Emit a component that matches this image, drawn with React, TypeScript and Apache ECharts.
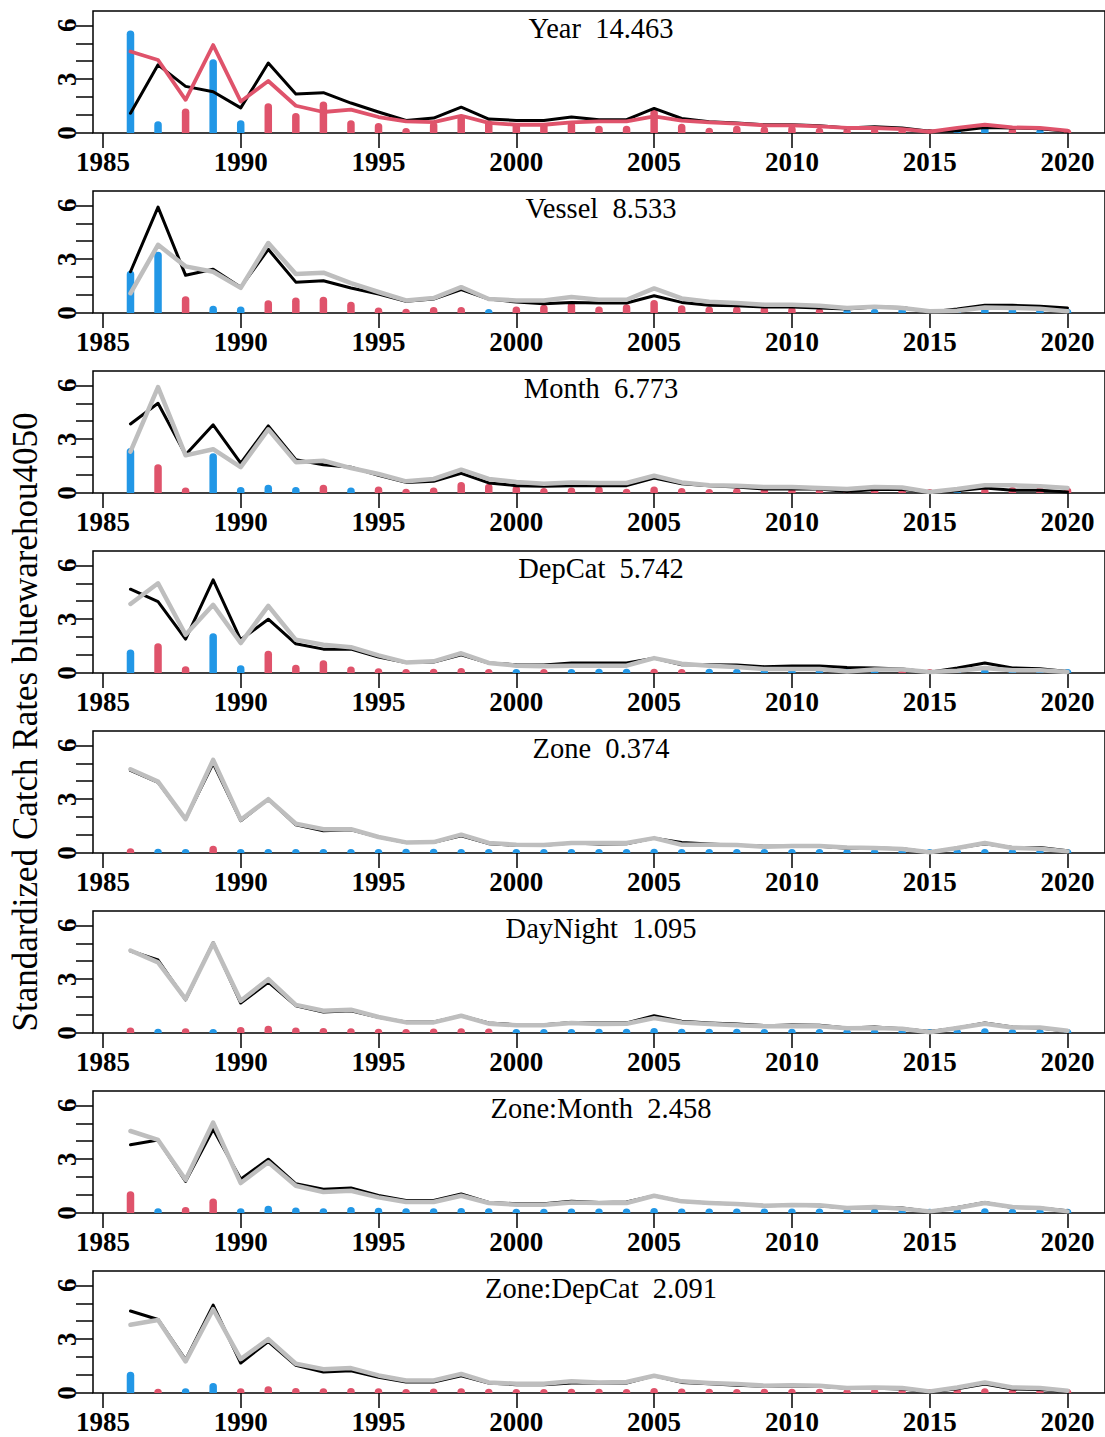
import React, { useEffect, useRef } from "react";
import * as echarts from "echarts";

const years = [1986, 1987, 1988, 1989, 1990, 1991, 1992, 1993, 1994, 1995, 1996, 1997, 1998, 1999, 2000, 2001, 2002, 2003, 2004, 2005, 2006, 2007, 2008, 2009, 2010, 2011, 2012, 2013, 2014, 2015, 2016, 2017, 2018, 2019, 2020];
const xTicks = [1985, 1990, 1995, 2000, 2005, 2010, 2015, 2020];
const yTicks = [0, 1, 2, 3, 4, 5, 6];
const yLabels = [0, 3, 6];

const termNames = ["Year", "Vessel", "Month", "DepCat", "Zone", "DayNight", "Zone:Month", "Zone:DepCat"];
const termStats = ["14.463", "8.533", "6.773", "5.742", "0.374", "1.095", "2.458", "2.091"];

// nominal (geometric mean) index shown in red in the first panel
const nominal = [4.54, 4.07, 1.85, 4.9, 1.76, 2.9, 1.52, 1.17, 1.3, 0.89, 0.65, 0.61, 0.96, 0.56, 0.46, 0.46, 0.59, 0.65, 0.65, 0.93, 0.69, 0.59, 0.52, 0.43, 0.43, 0.37, 0.28, 0.28, 0.22, 0.07, 0.28, 0.46, 0.31, 0.28, 0.13];

// standardized index after each step (black lines)
const yearIdx = [1.1, 3.8, 2.6, 2.3, 1.4, 3.9, 2.17, 2.25, 1.67, 1.17, 0.7, 0.83, 1.44, 0.78, 0.7, 0.7, 0.89, 0.74, 0.74, 1.37, 0.81, 0.63, 0.56, 0.46, 0.46, 0.41, 0.28, 0.35, 0.28, 0.1, 0.13, 0.31, 0.28, 0.24, 0.1];
const vesselIdx = [2.3, 5.9, 2.1, 2.44, 1.44, 3.55, 1.72, 1.8, 1.39, 1.06, 0.65, 0.78, 1.3, 0.78, 0.61, 0.52, 0.59, 0.56, 0.56, 0.96, 0.59, 0.43, 0.41, 0.33, 0.33, 0.28, 0.22, 0.33, 0.31, 0.06, 0.22, 0.43, 0.43, 0.37, 0.28];
const monthIdx = [3.85, 5.0, 2.13, 3.8, 1.67, 3.74, 1.85, 1.57, 1.44, 0.98, 0.59, 0.65, 1.1, 0.56, 0.41, 0.37, 0.41, 0.41, 0.41, 0.83, 0.52, 0.41, 0.33, 0.22, 0.22, 0.22, 0.09, 0.19, 0.19, 0.06, 0.13, 0.28, 0.15, 0.15, 0.06];
const depCatIdx = [4.67, 3.98, 1.89, 5.19, 1.85, 3.0, 1.63, 1.33, 1.33, 0.89, 0.59, 0.61, 1.02, 0.56, 0.46, 0.44, 0.56, 0.56, 0.56, 0.83, 0.46, 0.46, 0.44, 0.35, 0.39, 0.39, 0.31, 0.28, 0.22, 0.04, 0.28, 0.56, 0.28, 0.24, 0.09];
const zoneIdx = [4.6, 3.94, 1.89, 5.0, 1.8, 3.0, 1.57, 1.24, 1.3, 0.89, 0.59, 0.59, 0.96, 0.52, 0.43, 0.43, 0.56, 0.5, 0.52, 0.83, 0.59, 0.5, 0.43, 0.37, 0.37, 0.37, 0.26, 0.28, 0.24, 0.04, 0.28, 0.52, 0.31, 0.31, 0.13];
const dayNightIdx = [4.57, 4.07, 1.85, 5.04, 1.67, 2.83, 1.52, 1.17, 1.24, 0.87, 0.61, 0.61, 0.96, 0.56, 0.46, 0.46, 0.59, 0.56, 0.56, 0.96, 0.65, 0.56, 0.5, 0.41, 0.44, 0.43, 0.28, 0.33, 0.24, 0.09, 0.28, 0.56, 0.33, 0.28, 0.09];
const zoneMonthIdx = [3.8, 4.07, 1.76, 4.67, 1.89, 3.0, 1.63, 1.33, 1.39, 0.98, 0.7, 0.7, 1.06, 0.59, 0.52, 0.52, 0.65, 0.59, 0.61, 0.96, 0.65, 0.56, 0.5, 0.41, 0.43, 0.41, 0.28, 0.31, 0.28, 0.09, 0.31, 0.59, 0.31, 0.28, 0.13];
const zoneDepCatIdx = [4.57, 4.1, 1.85, 4.9, 1.67, 2.87, 1.54, 1.17, 1.24, 0.87, 0.61, 0.61, 0.96, 0.56, 0.46, 0.46, 0.56, 0.56, 0.56, 0.96, 0.59, 0.52, 0.43, 0.37, 0.37, 0.37, 0.26, 0.26, 0.22, 0.06, 0.24, 0.5, 0.22, 0.2, 0.09];

// step influence (positive = blue, negative = red)
const yearInfl = [5.5, 0.45, -1.15, 3.9, 0.5, -1.45, -0.9, -1.55, -0.5, -0.35, -0.07, -0.4, -0.8, -0.5, -0.35, -0.35, -0.4, -0.2, -0.2, -1.1, -0.3, -0.08, -0.2, -0.15, -0.2, -0.08, -0.05, -0.05, -0.05, -0.02, 0.13, 0.35, -0.08, 0.02, -0.02];
const vesselInfl = [2.15, 3.2, -0.72, 0.2, 0.15, -0.5, -0.65, -0.7, -0.42, -0.1, -0.03, -0.12, -0.12, 0.02, -0.15, -0.25, -0.38, -0.15, -0.28, -0.52, -0.22, -0.15, -0.15, -0.15, -0.12, -0.05, 0.02, 0.03, 0.1, 0.02, 0.03, 0.22, 0.1, 0.1, 0.03];
const monthInfl = [2.3, -1.4, -0.1, 2.0, 0.12, 0.25, 0.12, -0.25, 0.1, -0.15, -0.03, -0.1, -0.4, -0.3, -0.2, -0.07, -0.1, -0.15, -0.03, -0.15, -0.07, -0.02, -0.07, -0.07, -0.05, -0.03, -0.03, -0.1, -0.15, -0.02, 0.02, -0.05, -0.13, -0.13, -0.1];
const depCatInfl = [1.1, -1.45, -0.17, 2.0, 0.22, -1.03, -0.25, -0.5, -0.15, -0.05, -0.02, -0.03, -0.07, -0.02, 0.01, -0.02, 0.02, 0.03, 0.03, -0.03, -0.02, 0.03, 0.03, 0.02, 0.04, 0.04, 0.02, 0.02, -0.02, -0.02, 0.05, 0.06, 0.02, 0.02, 0.02];
const zoneInfl = [-0.05, 0.03, 0.02, -0.2, 0.02, 0.02, 0.02, 0.02, 0.02, 0.02, 0.03, 0.03, 0.02, 0.02, 0.02, 0.02, 0.02, 0.02, 0.02, 0.03, 0.02, 0.02, 0.02, 0.02, 0.02, 0.02, 0.02, 0.02, 0.02, 0.02, 0.02, 0.02, 0.02, 0.02, 0.02];
const dayNightInfl = [-0.1, 0.03, -0.05, 0.02, -0.12, -0.2, -0.1, -0.07, -0.05, -0.03, -0.02, -0.04, -0.05, -0.04, 0.02, 0.02, 0.02, 0.03, 0.03, 0.07, 0.03, 0.03, 0.03, 0.02, 0.03, 0.02, 0.02, 0.02, 0.02, 0.02, 0.02, 0.05, 0.02, 0.02, 0.02];
const zoneMonthInfl = [-1.0, 0.05, -0.12, -0.6, 0.05, 0.2, 0.1, 0.05, 0.12, 0.08, 0.05, 0.05, 0.07, 0.05, 0.03, 0.03, 0.04, 0.04, 0.04, 0.07, 0.04, 0.04, 0.04, 0.04, 0.04, 0.04, 0.03, 0.03, 0.03, 0.03, 0.05, 0.05, 0.03, 0.03, 0.03];
const zoneDepCatInfl = [0.97, -0.03, 0.05, 0.35, -0.05, -0.17, -0.07, -0.05, -0.07, -0.05, -0.02, -0.04, -0.05, -0.03, -0.02, -0.02, -0.03, -0.03, -0.02, -0.07, -0.04, -0.03, -0.02, -0.03, -0.03, -0.03, -0.02, -0.03, -0.02, -0.02, -0.05, -0.05, -0.02, -0.02, -0.02];

const yTitle = "Standardized Catch Rates bluewarehou4050";

const BLUE = "#2297E6";
const RED = "#DF536B";
const GREY = "#BEBEBE";
const SERIF = "'Liberation Serif', 'Times New Roman', serif";

const stepIdx = [yearIdx, vesselIdx, monthIdx, depCatIdx, zoneIdx, dayNightIdx, zoneMonthIdx, zoneDepCatIdx];
const stepInfl = [yearInfl, vesselInfl, monthInfl, depCatInfl, zoneInfl, dayNightInfl, zoneMonthInfl, zoneDepCatInfl];

const PANEL_H = 180;
const PLOT_TOP = 11;
const PLOT_H = 122;
const PLOT_LEFT = 93;
const PLOT_W = 1016;

function buildOption() {
  const grids: any[] = [];
  const xAxes: any[] = [];
  const yAxes: any[] = [];
  const series: any[] = [];
  const graphics: any[] = [];

  termNames.forEach((name, i) => {
    const top = PLOT_TOP + PANEL_H * i;
    grids.push({
      left: PLOT_LEFT,
      top,
      width: PLOT_W,
      height: PLOT_H,
      show: true,
      borderColor: "#000",
      borderWidth: 1.5,
      backgroundColor: "transparent",
      containLabel: false,
    });
    xAxes.push({
      type: "value",
      gridIndex: i,
      min: 1984.64,
      max: 2021.36,
      axisLine: { show: false },
      splitLine: { show: false },
      axisTick: {
        show: true,
        inside: false,
        length: 15,
        customValues: xTicks,
        lineStyle: { color: "#000", width: 1.5 },
      },
      axisLabel: {
        show: true,
        customValues: xTicks,
        margin: 15,
        color: "#000",
        fontFamily: SERIF,
        fontWeight: "bold",
        fontSize: 27,
        formatter: (v: number) => String(v),
      },
    });
    yAxes.push({
      type: "value",
      gridIndex: i,
      min: 0,
      max: 6.8,
      axisLine: { show: false },
      splitLine: { show: false },
      axisTick: {
        show: true,
        inside: false,
        length: 17,
        customValues: yTicks,
        lineStyle: { color: "#000", width: 1.5 },
      },
      axisLabel: {
        show: true,
        customValues: yLabels,
        rotate: 90,
        margin: 13,
        color: "#000",
        fontFamily: SERIF,
        fontWeight: "bold",
        fontSize: 27,
        formatter: (v: number) => String(v),
      },
    });

    const infl = stepInfl[i];
    series.push({
      type: "custom",
      xAxisIndex: i,
      yAxisIndex: i,
      clip: true,
      z: 2,
      data: years.map((yr, k) => [yr, Math.abs(infl[k]), infl[k] >= 0 ? 0 : 1]),
      renderItem: (params: any, api: any) => {
        const p0 = api.coord([api.value(0), 0]);
        const p1 = api.coord([api.value(0), api.value(1)]);
        return {
          type: "line",
          shape: { x1: p0[0], y1: p0[1], x2: p1[0], y2: p1[1] },
          style: {
            stroke: api.value(2) === 0 ? BLUE : RED,
            lineWidth: 7.5,
            lineCap: "round",
          },
        };
      },
    });

    series.push({
      type: "line",
      xAxisIndex: i,
      yAxisIndex: i,
      z: 3,
      symbol: "none",
      data: years.map((yr, k) => [yr, stepIdx[i][k]]),
      lineStyle: { color: "#000", width: 3, join: "round", cap: "round" },
    });

    const ref = i === 0 ? nominal : stepIdx[i - 1];
    series.push({
      type: "line",
      xAxisIndex: i,
      yAxisIndex: i,
      z: 4,
      symbol: "none",
      data: years.map((yr, k) => [yr, ref[k]]),
      lineStyle: {
        color: i === 0 ? RED : GREY,
        width: i === 0 ? 3.8 : 4.5,
        join: "round",
        cap: "round",
      },
    });

    graphics.push({
      type: "text",
      x: PLOT_LEFT + PLOT_W / 2,
      y: top + 17.5,
      z: 10,
      style: {
        text: name + "  " + termStats[i],
        textAlign: "center",
        textVerticalAlign: "middle",
        fontFamily: SERIF,
        fontSize: 28.5,
        fill: "#000",
      },
    });
  });

  graphics.push({
    type: "text",
    x: 25,
    y: 722,
    rotation: Math.PI / 2,
    z: 10,
    style: {
      text: yTitle,
      textAlign: "center",
      textVerticalAlign: "middle",
      fontFamily: SERIF,
      fontSize: 35,
      fill: "#000",
    },
  });

  return {
    animation: false,
    backgroundColor: "#fff",
    grid: grids,
    xAxis: xAxes,
    yAxis: yAxes,
    series,
    graphic: graphics,
  };
}

export default function App() {
  const ref = useRef<HTMLDivElement | null>(null);
  useEffect(() => {
    if (!ref.current) return;
    const chart = echarts.init(ref.current, null, { renderer: "svg" });
    chart.setOption(buildOption() as any);
    return () => {
      chart.dispose();
    };
  }, []);
  return (
    <div
      ref={ref}
      style={{ position: "absolute", left: 0, top: 0, width: 1105, height: 1437 }}
    />
  );
}
